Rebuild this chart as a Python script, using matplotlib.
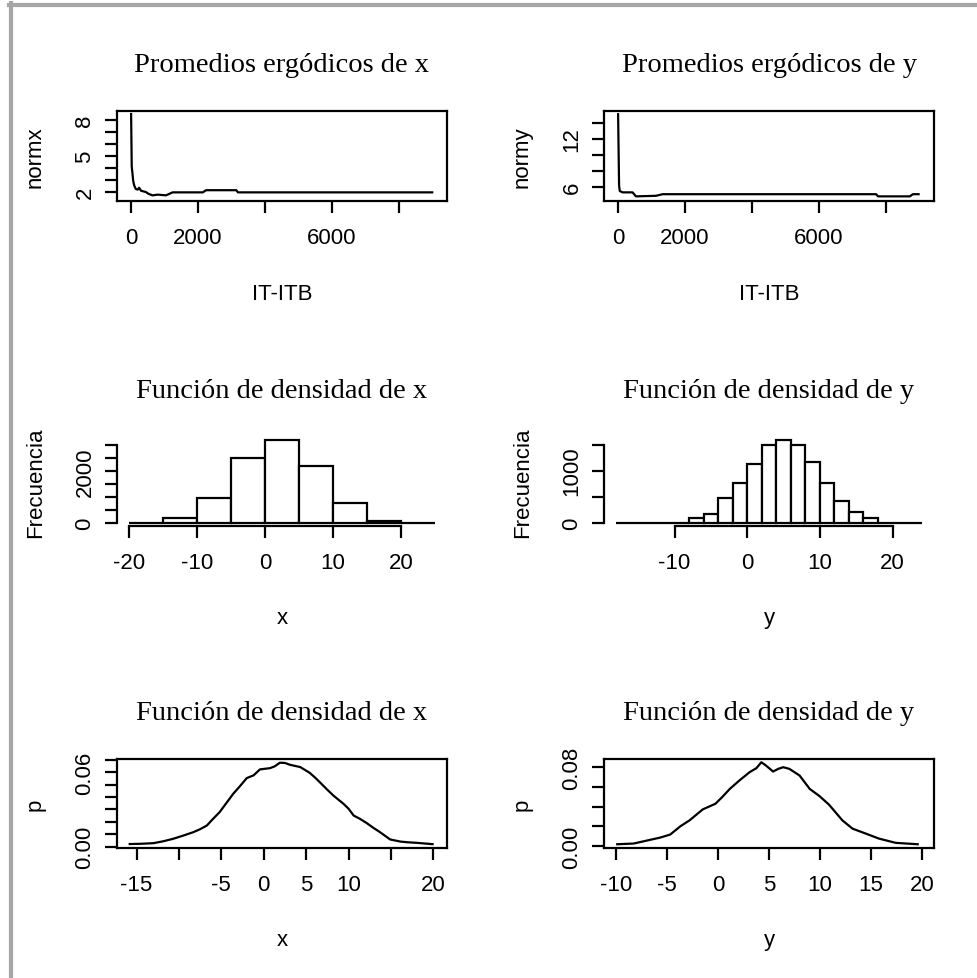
import matplotlib.pyplot as plt
from matplotlib.lines import Line2D

# Promedios ergódicos (iteración, media acumulada)
it_x = [1, 20, 40, 60, 80, 100, 140, 200, 240, 300, 440, 520, 640, 800, 1040,
        1240, 2140, 2240, 3140, 3190, 8990]
norm_x = [8.5, 4.1, 3.6, 3.0, 2.7, 2.5, 2.25, 2.2, 2.35, 2.1, 2.0, 1.85, 1.72,
          1.78, 1.72, 1.97, 1.97, 2.15, 2.15, 1.97, 1.97]

it_y = [1, 30, 50, 135, 433, 533, 1130, 1330, 1930, 7700, 7760, 8710, 8800, 8970]
norm_y = [15.1, 6.2, 5.5, 5.33, 5.33, 4.83, 4.9, 5.1, 5.1, 5.1, 4.83, 4.83, 5.1, 5.1]

# Histogramas
hx_edges = [-20, -15, -10, -5, 0, 5, 10, 15, 20, 25]
hx_counts = [3, 200, 950, 2530, 3200, 2190, 760, 65, 2]

hy_edges = [-18, -16, -14, -12, -10, -8, -6, -4, -2, 0, 2, 4, 6, 8, 10,
            12, 14, 16, 18, 20, 22, 24]
hy_counts = [0, 0, 0, 0, 0, 97, 174, 471, 755, 1129, 1497, 1581, 1497,
             1174, 755, 419, 213, 97, 0, 0, 0]

# Densidades estimadas
dx_x = [-15.8, -14.5, -13.0, -11.8, -10.7, -9.5, -8.3, -7.5, -6.7, -6.0, -5.2,
        -4.4, -3.6, -2.8, -2.0, -1.2, -0.45, 0.73, 1.3, 1.9, 2.5, 3.1, 4.3,
        5.4, 6.0, 6.6, 7.4, 8.2, 9.4, 10.0, 10.6, 11.3, 12.1, 12.9, 13.7,
        14.9, 16.1, 17.0, 18.0, 19.9]
dx_p = [0.002, 0.0022, 0.0027, 0.0043, 0.0062, 0.0088, 0.0116, 0.014, 0.017,
        0.0222, 0.0278, 0.0352, 0.0426, 0.0488, 0.0553, 0.0575, 0.0623, 0.0633,
        0.0648, 0.0677, 0.0675, 0.066, 0.0642, 0.0596, 0.056, 0.052, 0.0465,
        0.0412, 0.0345, 0.0305, 0.025, 0.0225, 0.0191, 0.0152, 0.0116, 0.0057,
        0.004, 0.0034, 0.003, 0.0019]

dy_y = [-9.9, -8.3, -7.0, -5.7, -4.7, -3.7, -2.8, -1.5, -0.26, 0.4, 1.15, 2.1,
        3.1, 3.76, 4.25, 4.7, 5.4, 5.9, 6.4, 7.0, 8.0, 9.0, 9.95, 10.9, 12.2,
        13.2, 14.5, 15.8, 17.45, 19.6]
dy_p = [0.002, 0.0027, 0.0057, 0.0087, 0.0118, 0.0202, 0.0262, 0.0373, 0.043,
        0.0497, 0.058, 0.0666, 0.075, 0.079, 0.085, 0.0817, 0.0756, 0.0783,
        0.08, 0.0783, 0.0716, 0.058, 0.0508, 0.042, 0.0262, 0.0178, 0.0128,
        0.0077, 0.0034, 0.002]

W, H = 977, 979
fig = plt.figure(figsize=(W / 100, H / 100), dpi=100)

SANS = 'Liberation Sans'
SERIF = 'Liberation Serif'
LW = 1.6


def make_ax(left, top, w, h):
    return fig.add_axes([left / W, 1 - (top + h) / H, w / W, h / H])


def style(ax, title, xlabel, ylabel, h):
    for s in ax.spines.values():
        s.set_linewidth(LW)
    ax.tick_params(direction='out', length=8.5, width=LW, labelsize=16)
    ax.tick_params(axis='x', pad=10)
    ax.tick_params(axis='y', pad=7)
    for lab in ax.get_yticklabels():
        lab.set_rotation(90)
        lab.set_va('center')
    for lab in ax.get_xticklabels() + ax.get_yticklabels():
        lab.set_fontfamily(SANS)
    ax.text(0.5, 1 + 40 / h, title, transform=ax.transAxes, ha='center',
            va='baseline', fontsize=20.5, family=SERIF)
    ax.set_xlabel(xlabel, fontsize=16, family=SANS)
    ax.set_ylabel(ylabel, fontsize=16, family=SANS)
    ax.xaxis.set_label_coords(0.5, -1.03)
    ax.xaxis.label.set_va('center')
    ax.yaxis.set_label_coords(-0.248, 0.5)
    ax.yaxis.label.set_va('center')


def set_ticks(ax, axis, ticks, shown):
    labels = [str(t) if t in shown else '' for t in ticks]
    if axis == 'x':
        ax.set_xticks(ticks)
        ax.set_xticklabels(labels)
    else:
        ax.set_yticks(ticks)
        ax.set_yticklabels(labels)


def fmt_ticks(ax, ticks, shown):
    ax.set_yticks(ticks)
    ax.set_yticklabels([f'{t:.2f}' if t in shown else '' for t in ticks])


# --- Fila 1: promedios ergódicos ---
ax1 = make_ax(117, 112, 330, 90)
ax1.plot(it_x, norm_x, color='black', lw=LW)
ax1.set_xlim(-420, 9430)
ax1.set_ylim(1.25, 8.75)
set_ticks(ax1, 'x', [0, 2000, 4000, 6000, 8000], [0, 2000, 6000])
set_ticks(ax1, 'y', [2, 3, 4, 5, 6, 7, 8], [2, 5, 8])
style(ax1, 'Promedios ergódicos de x', 'IT-ITB', 'normx', 90)

ax2 = make_ax(604, 112, 330, 90)
ax2.plot(it_y, norm_y, color='black', lw=LW)
ax2.set_xlim(-420, 9430)
ax2.set_ylim(4.25, 15.5)
set_ticks(ax2, 'x', [0, 2000, 4000, 6000, 8000], [0, 2000, 6000])
set_ticks(ax2, 'y', [6, 8, 10, 12, 14], [6, 12])
style(ax2, 'Promedios ergódicos de y', 'IT-ITB', 'normy', 90)

# --- Fila 2: histogramas ---
def hist(ax, edges, counts):
    widths = [b - a for a, b in zip(edges[:-1], edges[1:])]
    ax.bar(edges[:-1], counts, width=widths, align='edge', facecolor='white',
           edgecolor='black', linewidth=LW)
    ax.spines['top'].set_visible(False)
    ax.spines['right'].set_visible(False)


ax3 = make_ax(117, 438, 330, 89)
hist(ax3, hx_edges, hx_counts)
ax3.set_xlim(-21.8, 26.8)
ax3.set_ylim(-128, 3328)
set_ticks(ax3, 'x', [-20, -10, 0, 10, 20], [-20, -10, 0, 10, 20])
set_ticks(ax3, 'y', [0, 500, 1000, 1500, 2000, 2500, 3000], [0, 2000])
ax3.spines['bottom'].set_bounds(-20, 20)
ax3.spines['left'].set_bounds(0, 3000)
style(ax3, 'Función de densidad de x', 'x', 'Frecuencia', 89)

ax4 = make_ax(604, 438, 330, 89)
hist(ax4, hy_edges, hy_counts)
ax4.set_xlim(-19.7, 25.7)
ax4.set_ylim(-63, 1644)
set_ticks(ax4, 'x', [-10, 0, 10, 20], [-10, 0, 10, 20])
set_ticks(ax4, 'y', [0, 500, 1000, 1500], [0, 1000])
ax4.spines['bottom'].set_bounds(-10, 20)
ax4.spines['left'].set_bounds(0, 1500)
style(ax4, 'Función de densidad de y', 'y', 'Frecuencia', 89)

# --- Fila 3: densidades ---
ax5 = make_ax(117, 760, 330, 89)
ax5.plot(dx_x, dx_p, color='black', lw=LW)
ax5.set_xlim(-17.3, 21.6)
ax5.set_ylim(-0.0012, 0.0707)
set_ticks(ax5, 'x', [-15, -10, -5, 0, 5, 10, 15, 20], [-15, -5, 0, 5, 10, 20])
fmt_ticks(ax5, [0.0, 0.01, 0.02, 0.03, 0.04, 0.05, 0.06, 0.07], [0.0, 0.06])
style(ax5, 'Función de densidad de x', 'x', 'p', 89)

ax6 = make_ax(604, 760, 330, 89)
ax6.plot(dy_y, dy_p, color='black', lw=LW)
ax6.set_xlim(-11.2, 21.2)
ax6.set_ylim(-0.0018, 0.0883)
set_ticks(ax6, 'x', [-10, -5, 0, 5, 10, 15, 20], [-10, -5, 0, 5, 10, 15, 20])
fmt_ticks(ax6, [0.0, 0.02, 0.04, 0.06, 0.08], [0.0, 0.08])
style(ax6, 'Función de densidad de y', 'y', 'p', 89)

# marco gris de la captura
fig.add_artist(Line2D([11 / W, 11 / W], [0, 1 - 4 / H], transform=fig.transFigure,
                      color='#a6a6a6', lw=3))
fig.add_artist(Line2D([9 / W, 1], [1 - 6 / H, 1 - 6 / H], transform=fig.transFigure,
                      color='#a6a6a6', lw=3))

fig.savefig('out.png', dpi=100)
